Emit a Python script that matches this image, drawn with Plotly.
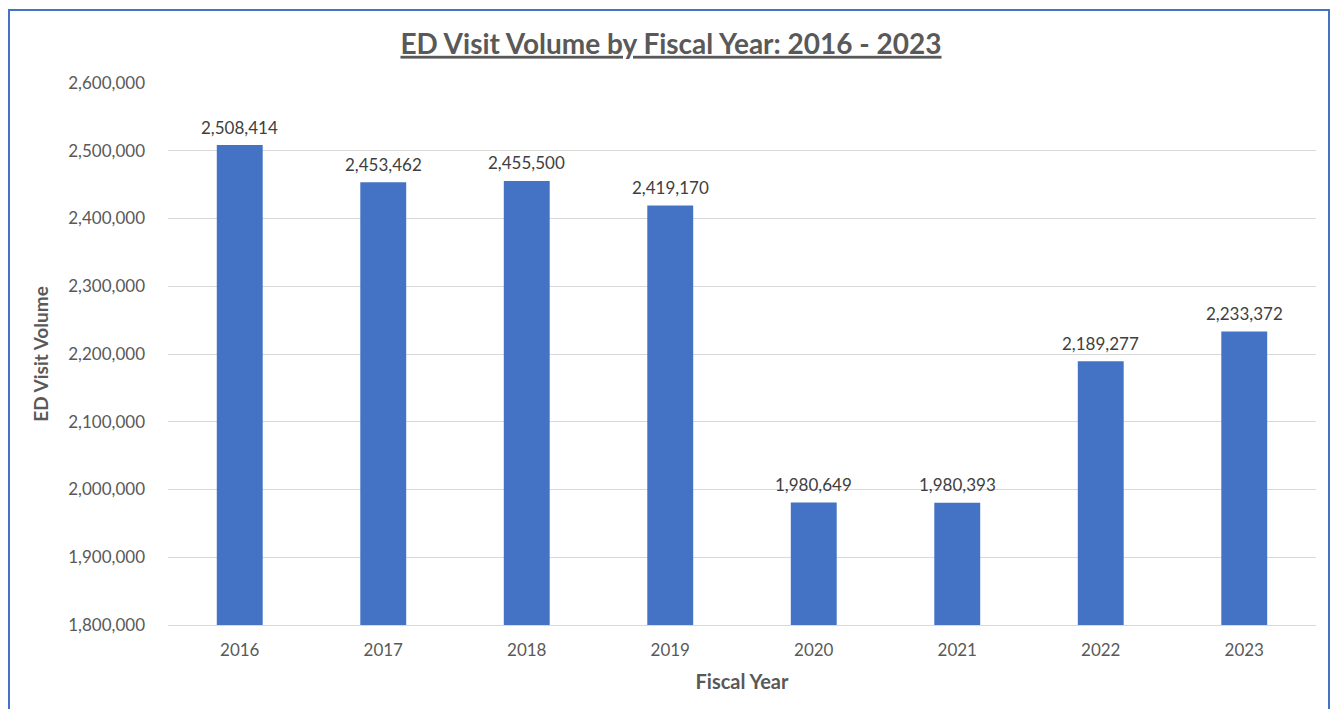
import plotly.graph_objects as go

# Fiscal-year ED visit totals
fiscal_years = ["2016", "2017", "2018", "2019", "2020", "2021", "2022", "2023"]
visit_volume = [2508414, 2453462, 2455500, 2419170, 1980649, 1980393, 2189277, 2233372]
y_ticks = [1800000, 1900000, 2000000, 2100000, 2200000, 2300000, 2400000, 2500000, 2600000]

W, H = 1335, 709
L, R, T, B = 168, 19, 83, 84
pw, ph = W - L - R, H - T - B

FONT = "Lato"
GREY = "#595959"
BLUE = "#4472C4"

fig = go.Figure(
    go.Bar(
        x=fiscal_years,
        y=visit_volume,
        marker=dict(color=BLUE, line=dict(width=0)),
        hoverinfo="x+y",
    )
)

# value labels above each bar (category index positions)
for i, v in enumerate(visit_volume):
    fig.add_annotation(
        x=i,
        y=v,
        xref="x",
        yref="y",
        text=f"{v:,}",
        showarrow=False,
        yanchor="middle",
        yshift=18,
        font=dict(family=FONT, size=17, color="#404040"),
    )

def px_x(p):
    return (p - L) / pw

def px_y(p):
    return (H - B - p) / ph

fig.update_layout(
    width=W,
    height=H,
    margin=dict(l=L, r=R, t=T, b=B),
    paper_bgcolor="white",
    plot_bgcolor="white",
    bargap=0.68,
    showlegend=False,
    title=dict(
        text="<b><u>ED Visit Volume by Fiscal Year: 2016 - 2023</u></b>",
        x=671 / W,
        xanchor="center",
        y=1 - 44 / H,
        yanchor="middle",
        font=dict(family=FONT, size=28, color=GREY),
    ),
    xaxis=dict(
        type="category",
        categoryorder="array",
        categoryarray=fiscal_years,
        range=[-0.5, len(fiscal_years) - 0.5],
        showgrid=False,
        showline=True,
        linecolor="#d9d9d9",
        linewidth=1,
        ticks="",
        ticklabelstandoff=10,
        tickfont=dict(family=FONT, size=17, color=GREY),
        title=dict(
            text="<b>Fiscal Year</b>",
            font=dict(family=FONT, size=20, color=GREY),
            standoff=15,
        ),
    ),
    yaxis=dict(
        range=[1800000, 2600000],
        tickvals=y_ticks,
        tickformat=",",
        showgrid=True,
        gridcolor="#d9d9d9",
        gridwidth=1,
        zeroline=False,
        showline=False,
        ticks="",
        ticklabelstandoff=22,
        tickfont=dict(family=FONT, size=17, color=GREY),
        title=dict(
            text="<b>ED Visit Volume</b>",
            font=dict(family=FONT, size=19, color=GREY),
            standoff=14,
        ),
    ),
    shapes=[
        dict(
            type="rect",
            xref="paper",
            yref="paper",
            x0=px_x(9),
            x1=px_x(1329),
            y0=px_y(720),
            y1=px_y(10),
            line=dict(color=BLUE, width=2),
            fillcolor="rgba(0,0,0,0)",
            layer="above",
        )
    ],
)

fig.write_html("out.html")
